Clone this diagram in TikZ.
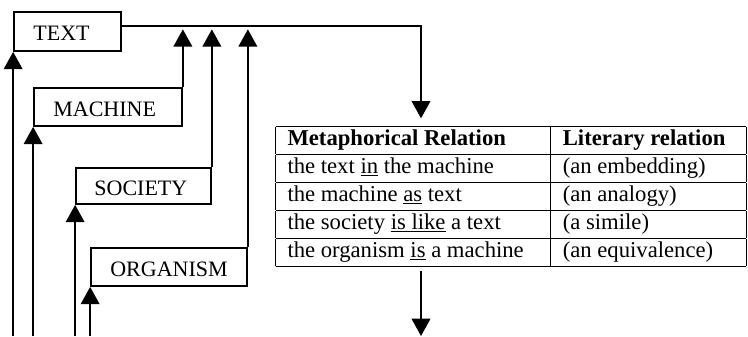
\documentclass[tikz,border=0pt]{standalone}
\usepackage{fontspec}
\setmainfont{Liberation Serif}
\usetikzlibrary{arrows.meta}
\setlength{\arrayrulewidth}{0.8pt}
\setlength{\tabcolsep}{9pt}
\renewcommand{\arraystretch}{1.0}

\tikzset{every picture/.style={line width=0.75pt}}
\tikzset{
	ebox/.style={draw, line width=1.3pt, inner sep=0pt, text height=14pt, text depth=0pt, font=\fontsize{16.5}{19.8}\selectfont},
	uparr/.style={line width=1.3pt, -{Triangle[width=14pt,length=13pt]}},
}

\begin{document}
\begin{tikzpicture}[x=0.75pt,y=0.75pt,yscale=-1,xscale=1,font=\fontsize{17}{20.2}\selectfont]
	\useasboundingbox (0,0) rectangle (748,336);

	% Boxes
	\node[ebox, minimum width=80.25pt, minimum height=29.25pt] (text) at (67.5,31.5) {TEXT\hspace*{9pt}};
	\node[ebox, minimum width=111pt, minimum height=28.5pt] (machine) at (108,107) {MACHINE\hspace*{5pt}};
	\node[ebox, minimum width=101.25pt, minimum height=27pt] (society) at (143.5,186) {SOCIETY\hspace*{4pt}};
	\node[ebox, minimum width=117pt, minimum height=28.5pt] (organism) at (169,267) {ORGANISM};

	% Table
	\node[anchor=north west, inner sep=0pt] (table) at (275,125) {%
		\begin{tabular}{|p{188.5pt}|p{128.5pt}|}
			\hline
			\textbf{Metaphorical Relation} & \textbf{Literary relation}\\ \hline
			the text \underline{in} the machine & (an embedding)\\ \hline
			the machine \underline{as} text & (an analogy)\\ \hline
			the society \underline{is like} a text & (a simile)\\ \hline
			the organism \underline{is} a machine & (an equivalence)\\ \hline
		\end{tabular}};

	\coordinate (corner) at (421,26);
	\coordinate (floor) at (0,336);

	% Top line to the table
	\draw[uparr, shorten >=5pt] (text.east |- corner) -- (corner) -- (corner |- table.north);
	% Rising lines
	\draw[uparr, shorten >=2.5pt] (machine.north east) -- (machine.north east |- corner);
	\draw[uparr, shorten >=2.5pt] (society.north east) -- (society.north east |- corner);
	\draw[uparr, shorten >=2.5pt] (organism.north east) -- (organism.north east |- corner);
	% Lines from below
	\draw[uparr] (text.south west |- floor) -- (text.south west);
	\draw[uparr] (machine.south west |- floor) -- (machine.south west);
	\draw[uparr] (society.south west |- floor) -- (society.south west);
	\draw[uparr] (organism.south west |- floor) -- (organism.south west);
	% Out of the table
	\draw[uparr, shorten <=3pt] (corner |- table.south) -- (corner |- floor);

\end{tikzpicture}
\end{document}
